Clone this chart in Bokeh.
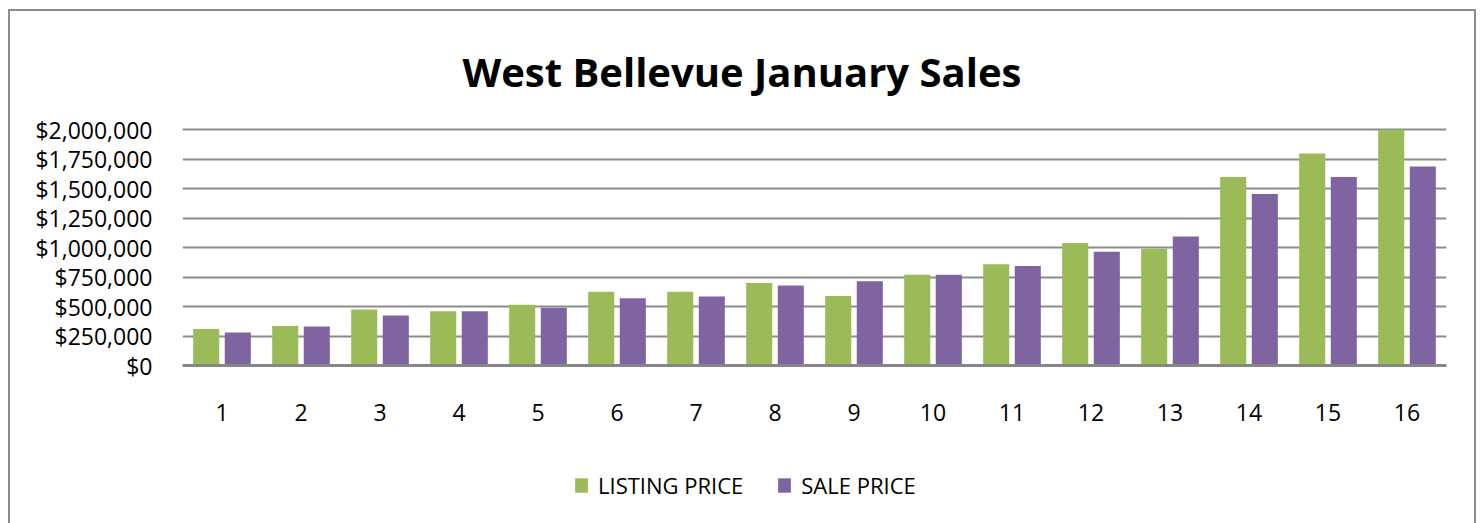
from bokeh.plotting import figure
from bokeh.layouts import column
from bokeh.models import ColumnDataSource, FactorRange, Range1d, NumeralTickFormatter, FixedTicker, Legend, LegendItem
from bokeh.transform import dodge
from bokeh.embed import file_html
from bokeh.resources import INLINE

categories = [str(i) for i in range(1, 17)]
listing_price = [310000, 335000, 475000, 460000, 515000, 625000, 625000, 700000,
                 590000, 770000, 860000, 1040000, 990000, 1600000, 1800000, 2000000]
sale_price = [280000, 330000, 425000, 460000, 490000, 570000, 585000, 680000,
              715000, 770000, 845000, 965000, 1095000, 1455000, 1600000, 1690000]
y_ticks = [0, 250000, 500000, 750000, 1000000, 1250000, 1500000, 1750000, 2000000]
title_text = "West Bellevue January Sales"
series_names = ["LISTING PRICE", "SALE PRICE"]

GREEN = "#9BBB59"
PURPLE = "#8064A2"
GRAY = "#8C8C8C"
FONT = "Open Sans"

src = ColumnDataSource(dict(cat=categories, listing=listing_price, sale=sale_price))

p = figure(width=1464, height=424, x_range=FactorRange(factors=categories, range_padding=0),
           y_range=Range1d(0, 2020000), output_backend="svg", toolbar_location=None,
           min_border_left=172, min_border_right=28, min_border_top=116, min_border_bottom=70,
           title=title_text)

p.title.align = "left"
p.title.offset = 280
p.title.text_font = FONT
p.title.text_font_style = "bold"
p.title.text_font_size = "40px"
p.title.text_color = "black"
p.title.standoff = 58

r1 = p.vbar(x=dodge("cat", -0.2, range=p.x_range), top="listing", width=0.33, source=src,
            fill_color=GREEN, line_color=None)
r2 = p.vbar(x=dodge("cat", 0.2, range=p.x_range), top="sale", width=0.33, source=src,
            fill_color=PURPLE, line_color=None)

p.outline_line_color = None
p.background_fill_color = "white"
p.border_fill_color = "white"

p.xgrid.grid_line_color = None
p.ygrid.ticker = FixedTicker(ticks=y_ticks)
p.ygrid.grid_line_color = GRAY
p.ygrid.grid_line_width = 2

p.yaxis.ticker = FixedTicker(ticks=y_ticks)
p.yaxis.formatter = NumeralTickFormatter(format="$0,0")
p.yaxis.axis_line_color = None
p.yaxis.major_tick_line_color = None
p.yaxis.minor_tick_line_color = None
p.yaxis.major_label_standoff = 24
p.yaxis.major_label_text_font = FONT
p.yaxis.major_label_text_font_size = "23px"
p.yaxis.major_label_text_color = "black"

p.xaxis.axis_line_color = "#868686"
p.xaxis.axis_line_width = 3
p.xaxis.major_tick_line_color = None
p.xaxis.minor_tick_line_color = None
p.xaxis.major_label_standoff = 32
p.xaxis.major_label_text_font = FONT
p.xaxis.major_label_text_font_size = "23px"
p.xaxis.major_label_text_color = "black"

# legend strip (separate figure so the legend is not clipped by the chart frame)
pl = figure(width=1464, height=88, x_range=Range1d(0, 1), y_range=Range1d(0, 1),
            output_backend="svg", toolbar_location=None,
            x_axis_location=None, y_axis_location=None,
            min_border_left=172, min_border_right=28, min_border_top=0, min_border_bottom=0)
pl.outline_line_color = None
pl.xgrid.grid_line_color = None
pl.ygrid.grid_line_color = None
# legend-key renderers placed outside the visible range (only their swatches show)
l1 = pl.vbar(x=[5], bottom=[5], top=[6], width=0.1, fill_color=GREEN, line_color=None)
l2 = pl.vbar(x=[5], bottom=[5], top=[6], width=0.1, fill_color=PURPLE, line_color=None)

legend = Legend(items=[LegendItem(label=series_names[0], renderers=[l1]),
                       LegendItem(label=series_names[1], renderers=[l2])],
                orientation="horizontal", location=(391, 23),
                padding=0, margin=0, spacing=33, label_standoff=9,
                glyph_width=16, glyph_height=18, label_height=18, border_line_color=None,
                background_fill_alpha=0,
                label_text_font=FONT, label_text_font_size="22px", label_text_color="black")
pl.add_layout(legend, "center")

layout = column(p, pl, spacing=0,
                styles={"margin-left": "8px", "margin-top": "9px",
                        "border-left": "2px solid #8c8c8c", "border-top": "2px solid #8c8c8c",
                        "border-right": "2px solid #8c8c8c"})

open("out.html", "w").write(file_html(layout, INLINE))
